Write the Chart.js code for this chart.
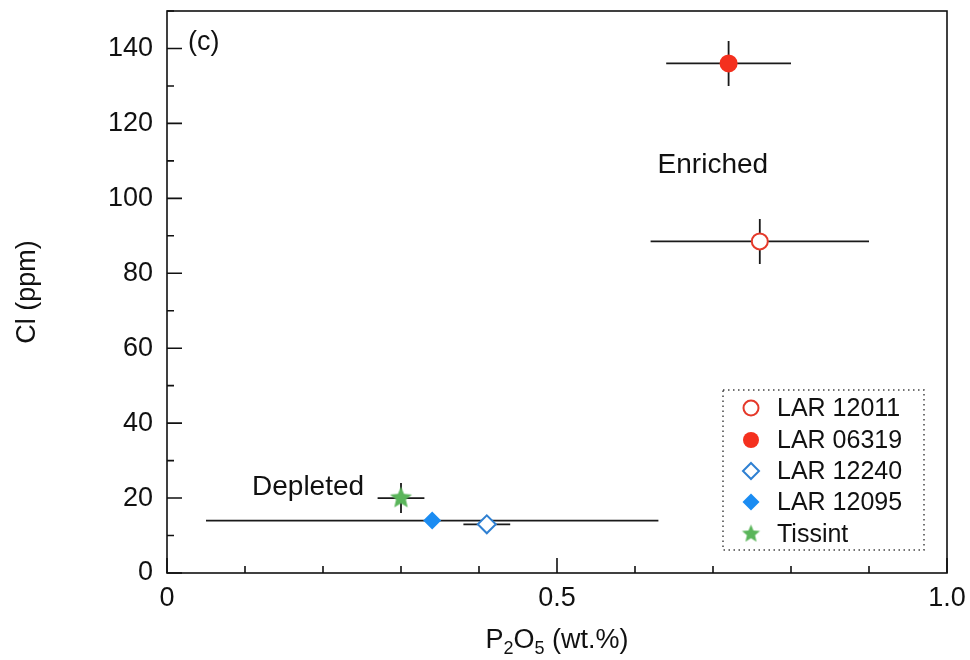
<!DOCTYPE html>
<html>
<head>
<meta charset="utf-8">
<script src="https://cdn.jsdelivr.net/npm/chart.js@4.4.0/dist/chart.umd.min.js"></script>
<style>
    html, body { margin: 0; padding: 0; background: #fff; }
</style>
</head>
<body>
<canvas id="chart" width="970" height="660"></canvas>
<script>
// Data
const seriesNames = ['LAR 12011', 'LAR 06319', 'LAR 12240', 'LAR 12095', 'Tissint'];
const p2o5 = [0.76, 0.72, 0.41, 0.34, 0.30];
const p2o5Err = [0.14, 0.08, 0.03, 0.29, 0.03];
const cl = [88.5, 136, 13, 14, 20];
const clErr = [6, 6, 0, 0, 4];
const xTicks = [0, 0.5, 1.0];
const yTicks = [0, 20, 40, 60, 80, 100, 120, 140];
const notes = ['(c)', 'Enriched', 'Depleted'];
const noteX = [0.027, 0.629, 0.109];
const noteY = [139.5, 106.7, 20.8];

const FONT = "'Liberation Sans', Arial, Helvetica, sans-serif";
const INK = '#111';

// Marker styles per series
const styles = [
    { shape: 'circle', r: 8, fill: '#ffffff', stroke: '#e5392a', bw: 2 },
    { shape: 'circle', r: 9, fill: '#f4301e', stroke: '#f4301e', bw: 0 },
    { shape: 'rectRot', r: 9, fill: '#ffffff', stroke: '#2f80d2', bw: 2 },
    { shape: 'rectRot', r: 9, fill: '#1b8cf2', stroke: '#1b8cf2', bw: 0 },
    { shape: 'star', r: 11, fill: '#5ab55a', stroke: '#5ab55a', bw: 0 }
];

function makeStar(R, color) {
    const c = document.createElement('canvas');
    const s = Math.ceil(2 * R + 2);
    c.width = s;
    c.height = s;
    const g = c.getContext('2d');
    const r = R * 0.45;
    g.beginPath();
    for (let k = 0; k < 10; k++) {
        const a = -Math.PI / 2 + k * Math.PI / 5;
        const rr = k % 2 === 0 ? R : r;
        g.lineTo(s / 2 + rr * Math.cos(a), s / 2 + rr * Math.sin(a));
    }
    g.closePath();
    g.fillStyle = color;
    g.fill();
    return c;
}

const starPlot = makeStar(11.5, styles[4].fill);
const starLegend = makeStar(9.5, styles[4].fill);

function drawMarker(ctx, st, x, y, r) {
    ctx.save();
    if (st.shape === 'star') {
        ctx.drawImage(starLegend, x - starLegend.width / 2, y - starLegend.height / 2);
        ctx.restore();
        return;
    }
    ctx.beginPath();
    if (st.shape === 'circle') {
        ctx.arc(x, y, r, 0, Math.PI * 2);
    } else {
        ctx.moveTo(x, y - r);
        ctx.lineTo(x + r, y);
        ctx.lineTo(x, y + r);
        ctx.lineTo(x - r, y);
        ctx.closePath();
    }
    ctx.fillStyle = st.fill;
    ctx.fill();
    if (st.bw > 0) {
        ctx.lineWidth = st.bw;
        ctx.strokeStyle = st.stroke;
        ctx.stroke();
    }
    ctx.restore();
}

const decor = {
    id: 'decor',
    beforeDatasetsDraw(chart) {
        const { ctx, scales: { x, y } } = chart;
        ctx.save();
        ctx.strokeStyle = '#1a1a1a';
        ctx.lineWidth = 1.8;
        p2o5.forEach((v, i) => {
            const px = x.getPixelForValue(v);
            const py = y.getPixelForValue(cl[i]);
            ctx.beginPath();
            ctx.moveTo(x.getPixelForValue(v - p2o5Err[i]), py);
            ctx.lineTo(x.getPixelForValue(v + p2o5Err[i]), py);
            if (clErr[i] > 0) {
                ctx.moveTo(px, y.getPixelForValue(cl[i] - clErr[i]));
                ctx.lineTo(px, y.getPixelForValue(cl[i] + clErr[i]));
            }
            ctx.stroke();
        });
        ctx.restore();
    },
    afterDraw(chart) {
        const { ctx, chartArea: a, scales: { x, y } } = chart;
        ctx.save();

        // frame
        ctx.strokeStyle = INK;
        ctx.lineWidth = 1.6;
        ctx.strokeRect(a.left, a.top, a.right - a.left, a.bottom - a.top);

        // inward ticks, major and minor
        ctx.beginPath();
        for (let k = 0; k <= 15; k++) {
            const py = y.getPixelForValue(k * 10);
            const len = k % 2 === 0 ? 15 : 7;
            ctx.moveTo(a.left, py);
            ctx.lineTo(a.left + len, py);
        }
        for (let k = 0; k <= 10; k++) {
            const px = x.getPixelForValue(k / 10);
            const len = k % 5 === 0 ? 15 : 7;
            ctx.moveTo(px, a.bottom);
            ctx.lineTo(px, a.bottom - len);
        }
        ctx.stroke();

        // x title with subscripts
        const parts = [['P', 27, 0], ['2', 18, 6], ['O', 27, 0], ['5', 18, 6], [' (wt.%)', 27, 0]];
        let total = 0;
        parts.forEach(p => {
            ctx.font = p[1] + 'px ' + FONT;
            total += ctx.measureText(p[0]).width;
        });
        let tx = (a.left + a.right) / 2 - total / 2;
        const base = 648;
        ctx.fillStyle = INK;
        ctx.textBaseline = 'alphabetic';
        ctx.textAlign = 'left';
        parts.forEach(p => {
            ctx.font = p[1] + 'px ' + FONT;
            ctx.fillText(p[0], tx, base + p[2]);
            tx += ctx.measureText(p[0]).width;
        });

        // annotations
        notes.forEach((t, i) => {
            ctx.font = (i === 0 ? 27 : 28) + 'px ' + FONT;
            ctx.fillText(t, x.getPixelForValue(noteX[i]), y.getPixelForValue(noteY[i]));
        });

        // legend box
        ctx.setLineDash([1.5, 3.5]);
        ctx.lineWidth = 1.5;
        ctx.strokeStyle = '#444';
        ctx.strokeRect(723, 390, 201, 160);
        ctx.setLineDash([]);
        const rows = [408, 440, 471, 502, 534];
        ctx.font = '25px ' + FONT;
        ctx.textBaseline = 'middle';
        seriesNames.forEach((name, i) => {
            const st = styles[i];
            const r = st.shape === 'circle' ? 8 : 8.5;
            drawMarker(ctx, st, 751, rows[i], st.bw > 0 ? r - 0.5 : r);
            ctx.fillStyle = INK;
            ctx.fillText(name, 777, rows[i] + 1);
        });
        ctx.restore();
    }
};

new Chart(document.getElementById('chart'), {
    type: 'scatter',
    data: {
        datasets: seriesNames.map((name, i) => ({
            label: name,
            data: [{ x: p2o5[i], y: cl[i] }],
            pointStyle: styles[i].shape === 'star' ? starPlot : styles[i].shape,
            pointRadius: styles[i].r,
            pointHoverRadius: styles[i].r,
            backgroundColor: styles[i].fill,
            borderColor: styles[i].stroke,
            borderWidth: styles[i].bw
        }))
    },
    options: {
        responsive: false,
        animation: false,
        devicePixelRatio: 1,
        layout: { padding: { top: 10, right: 23, left: 0, bottom: 0 } },
        plugins: {
            legend: { display: false },
            tooltip: { enabled: false }
        },
        scales: {
            x: {
                type: 'linear',
                min: 0,
                max: 1,
                afterBuildTicks: s => { s.ticks = xTicks.map(v => ({ value: v })); },
                afterFit: s => { s.height = 87; s.paddingLeft = 0; s.paddingRight = 0; },
                grid: { display: false, drawTicks: false },
                border: { display: false },
                ticks: {
                    padding: 9,
                    maxRotation: 0,
                    autoSkip: false,
                    color: INK,
                    font: { size: 27, family: FONT },
                    callback: v => v === 0 ? '0' : v.toFixed(1)
                }
            },
            y: {
                type: 'linear',
                min: 0,
                max: 150,
                afterBuildTicks: s => { s.ticks = yTicks.map(v => ({ value: v })); },
                afterFit: s => { s.width = 167; s.paddingTop = 0; s.paddingBottom = 0; },
                grid: { display: false, drawTicks: false },
                border: { display: false },
                ticks: {
                    padding: 14,
                    color: INK,
                    font: { size: 27, family: FONT }
                },
                title: {
                    display: true,
                    text: 'Cl (ppm)',
                    color: INK,
                    font: { size: 27, family: FONT },
                    padding: { top: 11, bottom: 0 }
                }
            }
        }
    },
    plugins: [decor]
});
</script>
</body>
</html>
